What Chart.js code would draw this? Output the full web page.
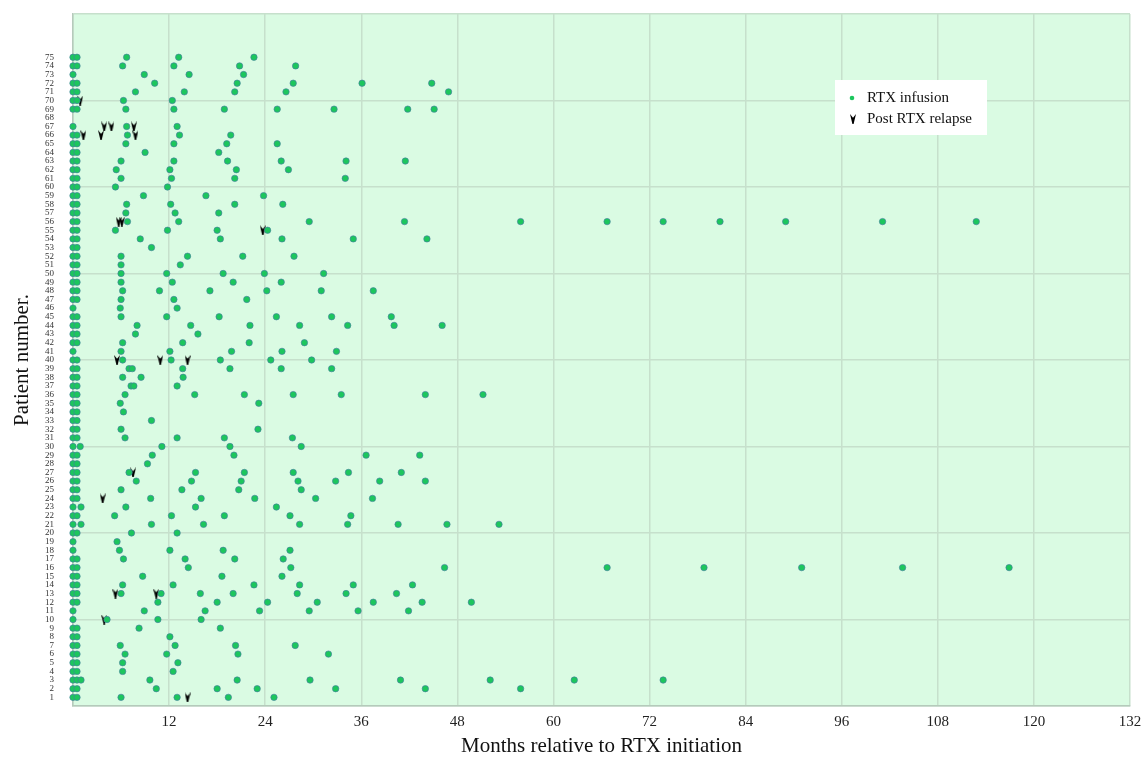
<!DOCTYPE html>
<html><head><meta charset="utf-8">
<script src="https://cdn.jsdelivr.net/npm/chart.js@4.4.1/dist/chart.umd.min.js"></script>
<style>html,body{margin:0;padding:0;background:#fff;}canvas{display:block;}</style>
</head><body>
<canvas id="c" width="1147" height="759"></canvas>
<script>
// ---- DATA ----
const xTickLabels = [12, 24, 36, 48, 60, 72, 84, 96, 108, 120, 132];
const patientLabels = [1,2,3,4,5,6,7,8,9,10,11,12,13,14,15,16,17,18,19,20,21,22,23,24,25,26,27,28,29,30,31,32,33,34,35,36,37,38,39,40,41,42,43,44,45,46,47,48,49,50,51,52,53,54,55,56,57,58,59,60,61,62,63,64,65,66,67,68,69,70,71,72,73,74,75];
// RTX infusion times (months) for patient 1..75
const infusionMonths = [
  [0,0.5,6.0,13.0,19.4,25.1],
  [0,0.5,10.4,18.0,23.0,32.8,44.0,55.9],
  [0,0.5,1.0,9.6,20.5,29.6,40.9,52.1,62.6,73.7],
  [0,0.5,6.2,12.5],
  [0,0.5,6.2,13.1],
  [0,0.5,6.5,11.7,20.6,31.9],
  [0,0.5,5.9,12.75,20.3,27.75],
  [0,0.5,12.1],
  [0,0.5,8.25,18.4],
  [0,4.25,10.6,16.0],
  [0,8.9,16.5,23.3,29.5,35.6,41.9],
  [0,0.5,10.6,18.0,24.3,30.5,37.5,43.6,49.75],
  [0,0.5,6.0,11.0,15.9,20.0,28.0,34.1,40.4],
  [0,0.5,6.2,12.5,22.6,28.3,35.0,42.4],
  [0,0.5,8.7,18.6,26.1],
  [0,0.5,14.4,27.2,46.4,66.7,78.8,91.0,103.6,116.9],
  [0,0.5,6.3,14.0,20.2,26.25],
  [0,5.8,12.1,18.75,27.1],
  [0,5.5],
  [0,0.5,7.3,13.0],
  [0,1.0,9.8,16.3,28.3,34.3,40.6,46.7,53.2],
  [0,0.5,5.2,12.3,18.9,27.1,34.7],
  [0,1.0,6.6,15.3,25.4],
  [0,0.5,9.7,16.0,22.7,30.3,37.4],
  [0,0.5,6.0,13.6,20.7,28.5],
  [0,0.5,7.9,14.8,21.0,28.1,32.8,38.3,44.0],
  [0,0.5,7.0,15.3,21.4,27.5,34.4,41.0],
  [0,0.5,9.3],
  [0,0.5,9.9,20.1,36.6,43.3],
  [0,0.9,11.1,19.6,28.5],
  [0,0.5,6.5,13.0,18.9,27.4],
  [0,0.5,6.0,23.1],
  [0,0.5,9.8],
  [0,0.5,6.3],
  [0,0.5,5.9,23.2],
  [0,0.5,6.5,15.2,21.4,27.5,33.5,44.0,51.2],
  [0,0.5,7.25,7.6,13.0],
  [0,0.5,6.2,8.5,13.75],
  [0,0.5,7.0,7.4,13.7,19.6,26.0,32.3],
  [0,0.5,6.2,12.25,18.4,24.7,29.8],
  [0,6.0,12.1,19.8,26.1,32.9],
  [0,0.5,6.2,13.7,22.0,28.9],
  [0,0.5,7.8,15.6],
  [0,0.5,8.0,14.7,22.1,28.3,34.3,40.1,46.1],
  [0,0.5,6.0,11.7,18.25,25.4,32.3,39.75],
  [0,5.9,13.0],
  [0,0.5,6.0,12.6,21.7],
  [0,0.5,6.2,10.8,17.1,24.2,31.0,37.5],
  [0,0.5,6.0,12.4,20.0,26.0],
  [0,0.5,6.0,11.7,18.75,23.9,31.3],
  [0,0.5,6.0,13.4],
  [0,0.5,6.0,14.3,21.2,27.6],
  [0,0.5,9.8],
  [0,0.5,8.4,18.4,26.1,35.0,44.2],
  [0,0.5,5.3,11.8,18.0,24.3],
  [0,0.5,6.8,13.2,29.5,41.4,55.9,66.7,73.7,80.8,89.0,101.1,112.8],
  [0,0.5,6.6,12.75,18.2],
  [0,0.5,6.7,12.2,20.2,26.2],
  [0,0.5,8.8,16.6,23.8],
  [0,0.5,5.3,11.8],
  [0,0.5,6.0,12.3,20.2,34.0],
  [0,0.5,5.4,12.1,20.4,26.9],
  [0,0.5,6.0,12.6,19.3,26.0,34.1,41.5],
  [0,0.5,9.0,18.2],
  [0,0.5,6.6,12.6,19.2,25.5],
  [0,0.5,6.8,13.3,19.7],
  [0,6.7,13.0],
  [],
  [0,0.5,6.6,12.6,18.9,25.5,32.6,41.8,45.1],
  [0,0.5,6.3,12.4],
  [0,0.5,7.8,13.9,20.2,26.6,46.9],
  [0,0.5,10.2,20.5,27.5,36.1,44.8],
  [0,8.9,14.5,21.3],
  [0,0.5,6.2,12.6,20.8,27.8],
  [0,0.5,6.7,13.2,22.6]
];
const relapsePatients = [1, 10, 13, 13, 24, 27, 40, 40, 40, 55, 56, 56, 66, 66, 66, 67, 67, 67, 70];
const relapseMonths   = [14.3, 3.9, 5.3, 10.4, 3.7, 7.5, 5.5, 10.9, 14.3, 23.7, 5.7, 6.1, 1.3, 3.5, 7.8, 3.9, 4.8, 7.6, 0.9];
const seriesNames = ['RTX infusion', 'Post RTX relapse'];

// ---- BUILD ----
const infusionPoints = [];
infusionMonths.forEach((arr, i) => arr.forEach(m => infusionPoints.push({x: m, y: patientLabels[i]})));
const relapsePoints = relapsePatients.map((p, i) => ({x: relapseMonths[i], y: p}));

function makeArrow(w, h) {
  const c = document.createElement('canvas');
  c.width = w; c.height = h;
  const g = c.getContext('2d');
  g.fillStyle = '#000';
  g.beginPath();
  g.moveTo(0, 0);
  g.lineTo(w / 2, h * 0.38);
  g.lineTo(w, 0);
  g.lineTo(w / 2 + 0.6, h);
  g.lineTo(w / 2 - 0.6, h);
  g.closePath();
  g.fill();
  return c;
}
const arrowImg = makeArrow(6, 10);

const FONT = "'Liberation Serif', 'DejaVu Serif', serif";
const dotFill = '#1cc65d';
const dotEdge = 'rgba(70,125,160,0.8)';

const plotBg = {
  id: 'plotBg',
  beforeDraw(chart) {
    const {ctx, chartArea: a} = chart;
    ctx.save();
    ctx.fillStyle = '#dafbe3';
    ctx.fillRect(a.left, a.top, a.right - a.left, a.bottom - a.top);
    ctx.restore();
  }
};
const legendBox = {
  id: 'legendBox',
  afterDraw(chart) {
    const ctx = chart.ctx;
    ctx.save();
    ctx.fillStyle = '#ffffff';
    ctx.fillRect(835, 80, 152, 55);
    ctx.beginPath();
    ctx.arc(852, 98, 2.3, 0, Math.PI * 2);
    ctx.fillStyle = dotFill;
    ctx.fill();
    ctx.drawImage(arrowImg, 850, 114);
    ctx.fillStyle = '#111';
    ctx.font = "15px " + FONT;
    ctx.textBaseline = 'alphabetic';
    ctx.textAlign = 'left';
    ctx.fillText(seriesNames[0], 867, 102);
    ctx.fillText(seriesNames[1], 867, 123);
    ctx.restore();
  }
};

new Chart(document.getElementById('c'), {
  type: 'scatter',
  data: {
    datasets: [
      {
        label: seriesNames[0],
        data: infusionPoints,
        backgroundColor: dotFill,
        borderColor: dotEdge,
        borderWidth: 0.8,
        pointRadius: 3.2,
        clip: false
      },
      {
        label: seriesNames[1],
        data: relapsePoints,
        pointStyle: arrowImg,
        backgroundColor: '#000',
        borderColor: '#000',
        clip: false
      }
    ]
  },
  options: {
    responsive: false,
    animation: false,
    devicePixelRatio: 1,
    layout: {padding: {left: 10, top: 14, right: 17, bottom: 0}},
    plugins: {legend: {display: false}, tooltip: {enabled: false}},
    scales: {
      x: {
        type: 'linear', min: 0, max: 132,
        afterBuildTicks: s => { s.ticks = [{value: 0}].concat(xTickLabels.map(v => ({value: v}))); },
        afterFit: s => { s.height = 53; s.paddingLeft = 0; s.paddingRight = 0; },
        ticks: {
          autoSkip: false, maxRotation: 0, padding: 7,
          font: {family: FONT, size: 15}, color: '#222',
          callback: v => (xTickLabels.includes(v) ? String(v) : '')
        },
        grid: {drawTicks: false, color: '#c6e0cc', lineWidth: 1.5},
        border: {color: '#b5cabb', width: 1.5},
        title: {display: true, text: 'Months relative to RTX initiation', font: {family: FONT, size: 21}, color: '#111', padding: {top: 3, bottom: 0}}
      },
      y: {
        type: 'linear', min: 0, max: 80,
        afterBuildTicks: s => { const t = [{value: 0}]; patientLabels.forEach(v => t.push({value: v})); [76,77,78,79,80].forEach(v => t.push({value: v})); s.ticks = t; },
        afterFit: s => { s.width = 63; s.paddingTop = 0; s.paddingBottom = 0; },
        ticks: {
          autoSkip: false, padding: 19,
          font: {family: FONT, size: 9}, color: '#333',
          callback: v => (patientLabels.includes(v) ? String(v) : '')
        },
        grid: {drawTicks: false, lineWidth: 1.5, color: c => (c.tick && c.tick.value % 10 === 0 ? '#c6e0cc' : 'rgba(0,0,0,0)')},
        border: {color: '#b5cabb', width: 1.5},
        title: {display: true, text: 'Patient number.', font: {family: FONT, size: 21}, color: '#111', padding: {top: 0, bottom: 0}}
      }
    }
  },
  plugins: [plotBg, legendBox]
});
</script>
</body></html>
